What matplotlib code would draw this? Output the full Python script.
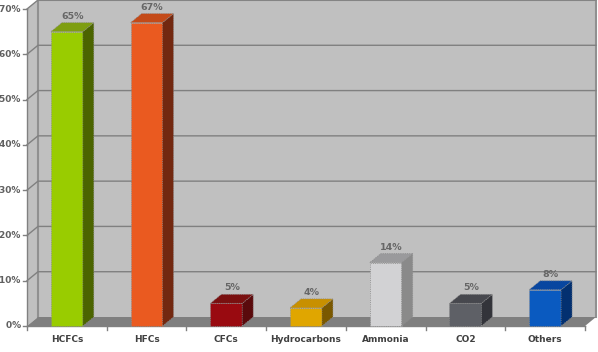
import matplotlib
matplotlib.use('Agg')
import matplotlib.pyplot as plt
from matplotlib.patches import Polygon
from matplotlib.transforms import IdentityTransform

categories = ['HCFCs', 'HFCs', 'CFCs', 'Hydrocarbons', 'Ammonia', 'CO2', 'Others']
values = [65, 67, 5, 4, 14, 5, 8]
labels = ['65%', '67%', '5%', '4%', '14%', '5%', '8%']
front_colors = ['#99CC00', '#EA5A20', '#990A10', '#E0A600', '#D2D2D4', '#5E6066', '#0A5AC0']
side_colors = ['#4B6400', '#722810', '#5A0A0C', '#7A5800', '#8A8A8A', '#33343A', '#033070']
top_colors = ['#7E9E10', '#C44A18', '#7A1010', '#C89000', '#9A9A9C', '#47484E', '#0846A0']
yticks = [0, 10, 20, 30, 40, 50, 60, 70]

DX, DY = 11, 9  # depth offset in pixels
GRID = '#808080'

fig = plt.figure(figsize=(5.98, 3.52), dpi=100)
ax = fig.add_axes([27 / 598, 26 / 352, 558 / 598, 317 / 352])
ax.set_xlim(-0.5, len(categories) - 0.5)
ax.set_ylim(0, 70)
ax.axis('off')
fig.canvas.draw()


def px(x, y, back=False):
    p = ax.transData.transform((x, y))
    if back:
        return (p[0] + DX, p[1] + DY)
    return (p[0], p[1])


def poly(pts, fc, ec='none', lw=0.0, z=1, ls='-'):
    p = Polygon(pts, closed=True, facecolor=fc, edgecolor=ec, linewidth=lw, linestyle=ls,
                transform=IdentityTransform(), zorder=z, clip_on=False)
    fig.add_artist(p)


def line(pts, color=GRID, lw=1.0, z=2):
    xs = [p[0] for p in pts]
    ys = [p[1] for p in pts]
    fig.add_artist(plt.Line2D(xs, ys, color=color, linewidth=lw,
                              transform=IdentityTransform(), zorder=z))


x0 = -0.5
x1 = len(categories) - 0.5
ymax = 70

# walls
poly([px(x0, 0, True), px(x1, 0, True), px(x1, ymax, True), px(x0, ymax, True)], '#C0C0C0', z=1)
poly([px(x0, 0), px(x0, 0, True), px(x0, ymax, True), px(x0, ymax)], '#C0C0C0', z=1)
line([px(x0, 0, True), px(x0, ymax, True), px(x1, ymax, True), px(x1, 0, True)], color='#909090', lw=1.5)

for t in yticks[1:]:
    line([px(x0, t), px(x0, t, True), px(x1, t, True)])

# floor
poly([px(x0, 0), px(x1, 0), px(x1, 0, True), px(x0, 0, True)], '#7F7F7F', z=2)

# front axes
line([px(x0, 0), px(x0, ymax)], z=3)
line([px(x0, 0), px(x1, 0)], z=3)
for t in yticks:
    a = px(x0, t)
    line([(a[0] - 4, a[1]), a], z=3)
    ax.text(x0, t, f'{t}%  ', ha='right', va='center', fontsize=6.5,
            fontweight='bold', color='#606060', clip_on=False)
for i in range(len(categories) + 1):
    a = px(i - 0.5, 0)
    line([a, (a[0], a[1] - 4)], z=3)

# bars
w = 0.2
for i, v in enumerate(values):
    l, r = i - w, i + w
    poly([px(l, 0), px(r, 0), px(r, v), px(l, v)], front_colors[i], ec='#8A8A8A', lw=0.6, z=5, ls=':')
    poly([px(r, 0), px(r, 0, True), px(r, v, True), px(r, v)], side_colors[i], ec='#8A8A8A', lw=0.6, z=5, ls=':')
    poly([px(l, v), px(r, v), px(r, v, True), px(l, v, True)], top_colors[i], ec='#8A8A8A', lw=0.6, z=5, ls=':')
    tp = px(i, v, True)
    fig.text((tp[0] - DX / 2) / 598, (tp[1] + 2) / 352, labels[i], ha='center', va='bottom',
             fontsize=6.8, fontweight='bold', color='#666666', zorder=6)
    ax.text(i, -2.0, categories[i], ha='center', va='top', fontsize=6.5, fontweight='bold',
            color='#404040', clip_on=False)

fig.savefig('out.png', dpi=100, facecolor='white')
